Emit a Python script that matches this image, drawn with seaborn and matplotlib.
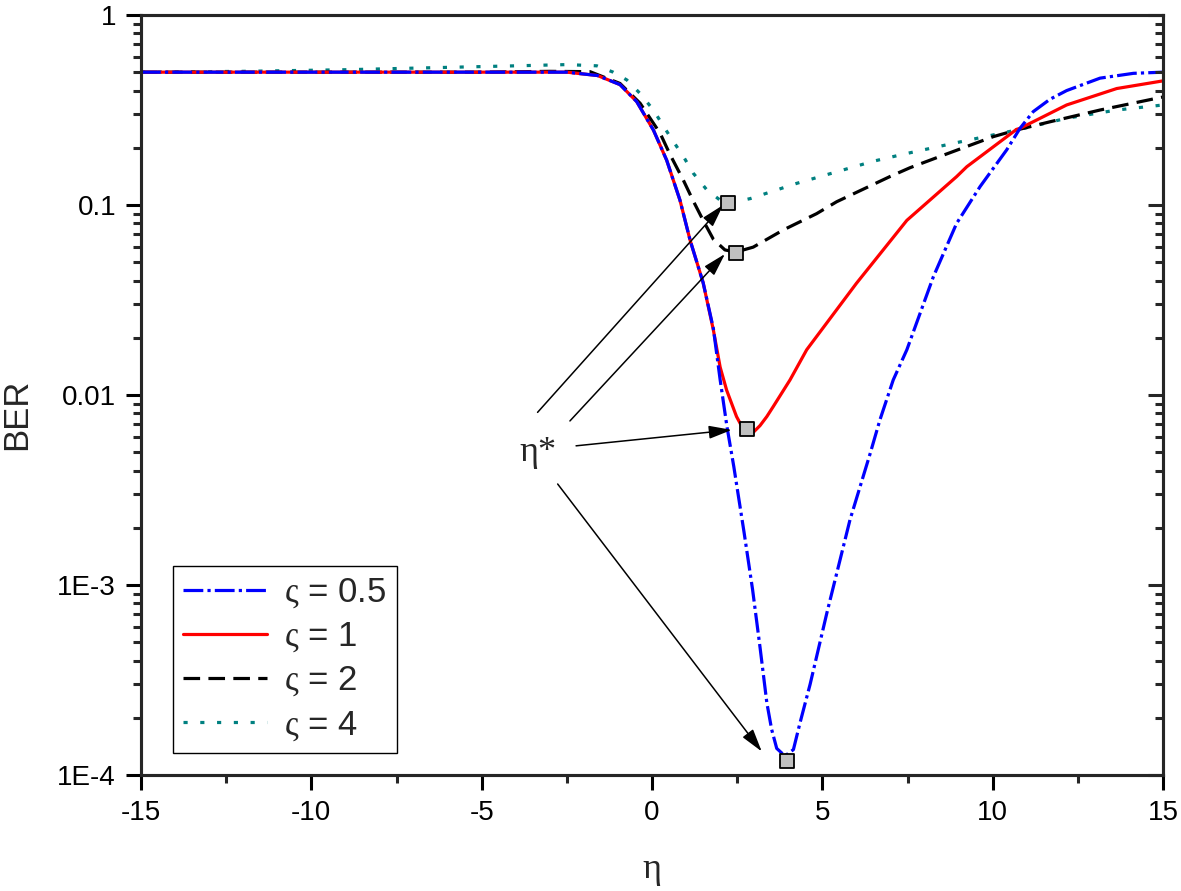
import numpy as np
import pandas as pd
import matplotlib
matplotlib.use("Agg")
import matplotlib.pyplot as plt
import seaborn as sns
from matplotlib.ticker import FixedLocator, FixedFormatter, MultipleLocator, LogLocator, NullFormatter

# BER vs eta for four values of varsigma
eta_05 = [-15, -10, -5, -2.5, -1.6, -0.94, -0.45, 0.04, 0.43, 0.82, 1.12, 1.5, 1.8, 2.0, 2.2, 2.4,
          2.7, 2.95, 3.17, 3.37, 3.51, 3.66, 3.9, 4.15, 4.34, 4.64, 5.13, 5.81, 6.4, 6.69, 7.08,
          7.48, 8.26, 8.94, 9.63, 10.41, 10.8, 11.19, 11.68, 12.17, 13.15, 14.13, 15]
ber_05 = [0.5, 0.5, 0.5, 0.5, 0.48, 0.43, 0.35, 0.248, 0.172, 0.106, 0.065, 0.039, 0.0224, 0.012,
          0.0068, 0.0042, 0.0019, 9.5e-4, 4.7e-4, 2.4e-4, 1.74e-4, 1.38e-4, 1.26e-4, 1.36e-4,
          1.87e-4, 3.0e-4, 7.1e-4, 0.0022, 0.0049, 0.0074, 0.012, 0.0173, 0.042, 0.080, 0.125,
          0.195, 0.253, 0.31, 0.36, 0.40, 0.465, 0.493, 0.50]

eta_1 = [-15, -10, -5, -2.5, -1.6, -0.94, -0.45, 0.04, 0.43, 0.82, 1.12, 1.5, 1.8, 2.0, 2.19, 2.48,
         2.7, 2.95, 3.17, 3.37, 3.56, 4.05, 4.54, 6.0, 7.48, 8.94, 9.24, 10.7, 10.8, 12.17,
         13.64, 15]
ber_1 = [0.5, 0.5, 0.5, 0.5, 0.48, 0.43, 0.35, 0.248, 0.172, 0.106, 0.065, 0.039, 0.022, 0.014,
         0.0106, 0.0077, 0.0065, 0.0063, 0.0069, 0.0077, 0.0087, 0.012, 0.0173, 0.0387,
         0.083, 0.141, 0.159, 0.25, 0.253, 0.336, 0.41, 0.45]

eta_2 = [-15, -10, -5, -3, -1.82, -0.94, -0.35, 0.24, 0.53, 0.92, 1.21, 1.5, 1.8, 2.14, 2.46, 2.97,
         3.86, 4.83, 5.42, 6.98, 7.57, 8.45, 10.02, 10.7, 11.68, 13.15, 14.8, 15]
ber_2 = [0.5, 0.5, 0.5, 0.505, 0.503, 0.436, 0.343, 0.238, 0.184, 0.135, 0.105, 0.083, 0.066,
         0.058, 0.0565, 0.060, 0.074, 0.090, 0.104, 0.141, 0.157, 0.18, 0.229, 0.248, 0.274,
         0.316, 0.364, 0.37]

eta_4 = [-15, -12, -9, -6, -4, -2.5, -1.62, -1.14, -0.74, -0.35, 0.04, 0.53, 0.92, 1.21, 1.61, 2.0,
         2.24, 2.88, 4.25, 6.5, 7.38, 8.84, 10.7, 12.17, 13.64, 15]
ber_4 = [0.5, 0.505, 0.515, 0.53, 0.54, 0.548, 0.54, 0.50, 0.455, 0.386, 0.316, 0.229, 0.18,
         0.147, 0.12, 0.106, 0.102, 0.108, 0.13, 0.17, 0.185, 0.211, 0.248, 0.286, 0.316, 0.336]

labels = [r"$\mathrm{ς}$ = 0.5", r"$\mathrm{ς}$ = 1", r"$\mathrm{ς}$ = 2", r"$\mathrm{ς}$ = 4"]
colors = ["#0000FF", "#FF0000", "#000000", "#008080"]

# optimum points eta* (grey squares)
opt_eta = [3.96, 2.78, 2.46, 2.24]
opt_ber = [1.18e-4, 0.0066, 0.0557, 0.102]

# annotation arrows from the eta* label to the optimum points
arrow_from = [(-3.36, 0.0081), (-2.41, 0.0073), (-2.23, 0.0054), (-2.77, 0.0034)]
arrow_to = [(2.09, 0.100), (2.14, 0.0552), (2.34, 0.00655), (3.22, 1.33e-4)]

df = pd.concat([
    pd.DataFrame({"eta": eta_05, "ber": ber_05, "zeta": labels[0]}),
    pd.DataFrame({"eta": eta_1, "ber": ber_1, "zeta": labels[1]}),
    pd.DataFrame({"eta": eta_2, "ber": ber_2, "zeta": labels[2]}),
    pd.DataFrame({"eta": eta_4, "ber": ber_4, "zeta": labels[3]}),
], ignore_index=True)

sns.set_style("ticks")
plt.rcParams["font.family"] = ["Liberation Sans", "DejaVu Sans"]
plt.rcParams["mathtext.fontset"] = "custom"
plt.rcParams["mathtext.rm"] = "Liberation Serif"
plt.rcParams["mathtext.it"] = "Liberation Serif:italic"
plt.rcParams["axes.unicode_minus"] = False

fig = plt.figure(figsize=(11.81, 8.91), dpi=100)
ax = fig.add_axes([0.1194, 0.1302, 0.8654, 0.8530])

dash_map = {labels[0]: (6.2, 1.3, 1.0, 1.3), labels[1]: "", labels[2]: (5.2, 2.6), labels[3]: (1.3, 3.95)}
sns.lineplot(data=df, x="eta", y="ber", hue="zeta", style="zeta", hue_order=labels, style_order=labels,
             palette=colors, dashes=dash_map, estimator=None, sort=False, linewidth=2.3, ax=ax)
# blue on top of red, as in the original
for ln, z in zip(ax.lines[:4], [2.6, 2.5, 2.4, 2.3]):
    ln.set_zorder(z)

sns.scatterplot(x=opt_eta, y=opt_ber, marker="s", s=95, color="#C0C0C0", edgecolor="black",
                linewidth=1.3, zorder=5, legend=False, ax=ax)

for (x0, y0), (x1, y1) in zip(arrow_from, arrow_to):
    ax.annotate("", xy=(x1, y1), xytext=(x0, y0),
                arrowprops=dict(arrowstyle="-|>,head_length=0.7,head_width=0.2", color="black",
                                lw=1.1, shrinkA=0, shrinkB=0, mutation_scale=20), zorder=4)
ax.text(-3.35, 0.005, "η*", fontsize=26, family="Liberation Serif", ha="center", va="center")

ax.set_yscale("log")
ax.set_xlim(-15, 15)
ax.set_ylim(1e-4, 1)
ax.xaxis.set_major_locator(MultipleLocator(5))
ax.xaxis.set_minor_locator(MultipleLocator(2.5))
ax.yaxis.set_major_locator(FixedLocator([1e-4, 1e-3, 1e-2, 1e-1, 1]))
ax.yaxis.set_major_formatter(FixedFormatter(["1E-4", "1E-3", "0.01", "0.1", "1"]))
ax.yaxis.set_minor_locator(LogLocator(base=10, subs=np.arange(2, 10)))
ax.yaxis.set_minor_formatter(NullFormatter())

for s in ax.spines.values():
    s.set_linewidth(2.2)
    s.set_color("black")
ax.tick_params(which="major", direction="out", length=11, width=2.2, labelsize=20, pad=7, colors="black")
ax.tick_params(which="minor", direction="out", length=6, width=2.2)

# mirrored inward ticks on the right side
ax2 = ax.twinx()
ax2.set_yscale("log")
ax2.set_ylim(1e-4, 1)
ax2.yaxis.set_major_locator(FixedLocator([1e-4, 1e-3, 1e-2, 1e-1, 1]))
ax2.yaxis.set_minor_locator(LogLocator(base=10, subs=np.arange(2, 10)))
ax2.tick_params(which="major", direction="in", length=11, width=2.2, labelright=False)
ax2.tick_params(which="minor", direction="in", length=6, width=2.2, labelright=False)
for s in ax2.spines.values():
    s.set_linewidth(2.2)

ax.set_xlabel("η", fontsize=26, family="Liberation Serif")
ax.set_ylabel("BER", fontsize=25)
ax.xaxis.set_label_coords(0.5, -0.102)
ax.yaxis.set_label_coords(-0.106, 0.474)

sns.move_legend(ax, loc="lower left", bbox_to_anchor=(0.0313, 0.029), borderaxespad=0,
                title=None, fontsize=25, frameon=True, fancybox=False, edgecolor="black",
                framealpha=1, handlelength=2.4, handletextpad=0.5, borderpad=0.3,
                labelspacing=0.28)
ax.get_legend().get_frame().set_linewidth(1.0)

fig.savefig("out.png", dpi=100)
